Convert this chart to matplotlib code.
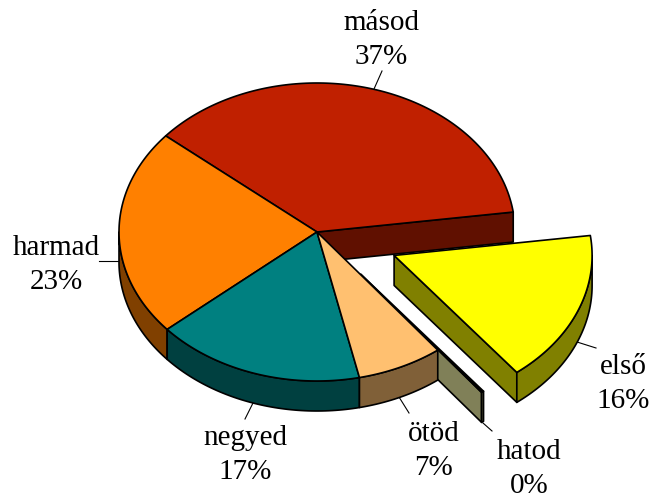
import numpy as np
import matplotlib
matplotlib.use("Agg")
import matplotlib.pyplot as plt

# Chart data, counter clockwise from the start angle.
categories = ["másod", "harmad", "negyed", "ötöd", "hatod", "első"]
shares     = [36.7, 22.5, 17.1, 7.0, 0.2, 16.5]
percents   = ["37%", "23%", "17%", "7%", "0%", "16%"]
explode    = [0.0, 0.0, 0.0, 0.0, 0.36, 0.42]

topColors  = ["#C02000", "#FF8000", "#008080", "#FFC070", "#000000", "#FFFF00"]
sideColors = ["#601000", "#804000", "#004040", "#806038", "#808058", "#808000"]

# Layout, in picture pixels.
centerX, centerY = 317.0, 232.0
radiusX, radiusY = 198.0, 149.0
depth            = 30.0
startAngle       = 7.7

labelXY = [(381, 40), (56, 265), (245, 455), (434, 451), (529, 469), (623, 384)]
leaders = [
    [(374, 89), (382, 71)],
    [(99, 261), (120, 261)],
    [(253, 403), (245, 419)],
    [(399, 397), (409, 413)],
    [(483, 423), (492, 431)],
    [(577, 342), (596, 348)],
]


def Arc(cx, cy, start, end):
    t = np.radians(np.linspace(start, end, max(int(abs(end - start)) + 2, 2)))
    return np.column_stack([cx + radiusX*np.cos(t), cy - radiusY*np.sin(t)])


def DrawPolygon(axes, points, color, zorder, lineWidth=1.2):
    axes.fill(points[:, 0], points[:, 1], facecolor=color, edgecolor="black",
              linewidth=lineWidth, joinstyle="round", zorder=zorder)


figure = plt.figure(figsize=(6.49, 4.98), dpi=100)
axes   = figure.add_axes([0, 0, 1, 1])
axes.set_xlim(0, 649)
axes.set_ylim(498, 0)
axes.axis("off")

edges = startAngle + np.concatenate([[0], np.cumsum(shares)]) * 3.6

# The tiny exploded slice goes in first so the rest of the pie covers it.
order = [4, 0, 5, 1, 2, 3]
for step, i in enumerate(order):
    start, end = edges[i], edges[i + 1]
    middle     = np.radians((start + end) / 2)
    cx         = centerX + explode[i]*radiusX*np.cos(middle)
    cy         = centerY - explode[i]*radiusY*np.sin(middle)
    zorder     = 2 + step
    tip        = np.array([[cx, cy]])
    down       = np.array([0, depth])

    # Radial face at the start of the slice, only seen where the neighbour has moved away.
    if explode[i] != explode[i - 1]:
        edge = Arc(cx, cy, start, start)[:1]
        DrawPolygon(axes, np.vstack([tip, edge, edge + down, tip + down]), sideColors[i], zorder)

    # Outer wall, only the part below the horizontal axis is seen.
    low  = max(start, 180.0)
    high = min(end, 360.0)
    if high > low:
        rim = Arc(cx, cy, low, high)
        DrawPolygon(axes, np.vstack([rim, (rim + down)[::-1]]), sideColors[i], zorder)

    DrawPolygon(axes, np.vstack([tip, Arc(cx, cy, start, end)]), topColors[i], zorder)

for name, percent, xy, leader in zip(categories, percents, labelXY, leaders):
    axes.plot(*zip(*leader), color="black", linewidth=0.8, zorder=1)
    axes.text(xy[0], xy[1], name + "\n" + percent, ha="center", va="center", fontsize=21,
              family="Liberation Serif", linespacing=1.38, color="black", zorder=20)

figure.savefig("out.png", dpi=100, facecolor="white")
